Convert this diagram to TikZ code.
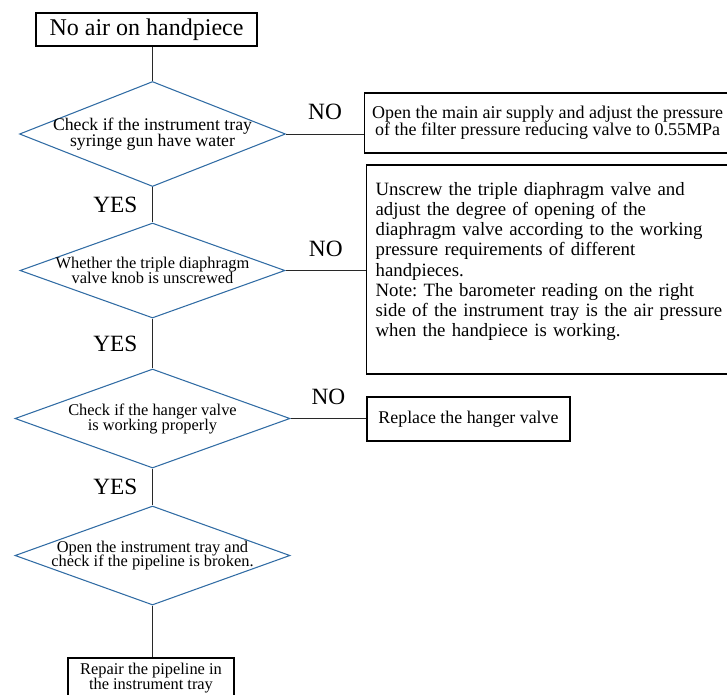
\documentclass[tikz,border=0pt]{standalone}
\usepackage{fontspec}
\setmainfont{Liberation Serif}
\usetikzlibrary{shapes.geometric}
\definecolor{flowblue}{RGB}{49,108,164}
\newcommand{\flowfont}[2]{\fontsize{#1}{#2}\selectfont\lineskiplimit=-20pt\relax\frenchspacing}

\begin{document}
\begin{tikzpicture}[x=0.75pt,y=0.75pt,yscale=-1,xscale=1,
  decision/.style={draw=flowblue, line width=0.8pt, shape=diamond, inner xsep=-70pt, inner ysep=-14pt, align=center},
  action/.style={draw, line width=0.9pt, rectangle, align=center, inner sep=0pt},
  link/.style={draw, line width=0.75pt, color={rgb, 255:red, 40; green, 40; blue, 40 }},
  answer/.style={font=\flowfont{17.5}{18}, text=black, inner sep=0pt}]
%set diagram frame at 727 x 694
\path [use as bounding box] (0,0) rectangle (727,694);
\clip (0,0) rectangle (727,694);

% Text Node
\node (start) [action, minimum width=165.75pt, minimum height=24.75pt, font=\flowfont{18}{20}] at (146.5,29.5) {No air on handpiece};
% Shape: Diamond
\node (chk1) [decision, minimum width=199.5pt, minimum height=78.75pt, font=\flowfont{13.3}{12}] at (152.5,134) {Check if the instrument tray\\syringe gun have water};
% Text Node
\node (supply) [action, anchor=west, minimum width=274.5pt, minimum height=45pt, font=\flowfont{13.5}{12.75}] at (364,123) {Open the main air supply and adjust the pressure\\of the filter pressure reducing valve to 0.55MPa};
% Shape: Diamond
\node (chk2) [decision, minimum width=198.75pt, minimum height=71.25pt, font=\flowfont{12.3}{11}] at (152.5,270.5) {Whether the triple diaphragm\\valve knob is unscrewed};
% Text Node
\node (diaphragm) [action, anchor=west, align=left, text width=270pt, inner xsep=6.75pt, minimum height=156.75pt, font=\flowfont{14.1}{15.1}] at (366,269.5) {Unscrew the triple diaphragm valve and\\adjust the degree of opening of the\\diaphragm valve according to the working\\pressure requirements of different\\handpieces.\\Note: The barometer reading on the right\\side of the instrument tray is the air pressure\\when the handpiece is working.\\\mbox{}};
% Shape: Diamond
\node (chk3) [decision, minimum width=206.25pt, minimum height=74.25pt, font=\flowfont{12.3}{11.25}] at (152.5,418.5) {Check if the hanger valve\\is working properly};
% Text Node
\node (hanger) [action, minimum width=152.25pt, minimum height=33pt, font=\flowfont{13.4}{15}] at (468.5,419) {Replace the hanger valve};
% Shape: Diamond
\node (chk4) [decision, minimum width=206.25pt, minimum height=74.25pt, font=\flowfont{12.3}{11}] at (152.5,555.5) {Open the instrument tray and\\check if the pipeline is broken.};
% Text Node
\node (pipeline) [action, minimum width=124.5pt, minimum height=30pt, font=\flowfont{12.3}{11}] at (151,678) {Repair the pipeline in\\the instrument tray};

%Straight Lines
\draw [link] (start.south -| chk1.north) -- (chk1.north);
\draw [link] (chk1.east) -- (chk1.east -| supply.west) node [answer, midway, anchor=south, inner ysep=10pt] {NO};
\draw [link] (chk1.south) -- (chk2.north) node [answer, midway, anchor=east, inner xsep=11pt] {YES};
\draw [link] (chk2.east) -- (chk2.east -| diaphragm.west) node [answer, midway, anchor=south, inner ysep=10pt] {NO};
\draw [link] (chk2.south) -- (chk3.north) node [answer, midway, anchor=east, inner xsep=11pt] {YES};
\draw [link] (chk3.east) -- (chk3.east -| hanger.west) node [answer, midway, anchor=south, inner ysep=10pt] {NO};
\draw [link] (chk3.south) -- (chk4.north) node [answer, midway, anchor=east, inner xsep=11pt] {YES};
\draw [link] (chk4.south) -- (chk4.south |- pipeline.north);

\end{tikzpicture}
\end{document}
